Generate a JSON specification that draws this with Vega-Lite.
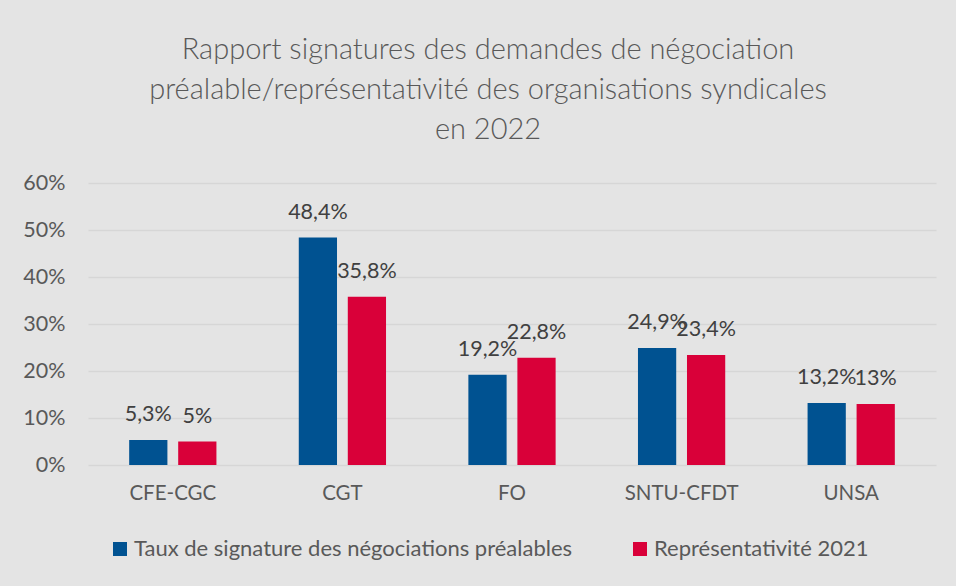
{
  "$schema": "https://vega.github.io/schema/vega-lite/v6.json",
  "width": 848,
  "height": 282,
  "autosize": {"type": "none"},
  "padding": {"left": 88, "top": 183, "right": 20, "bottom": 121},
  "background": "#e4e4e4",
  "title": {
    "text": ["Rapport signatures des demandes de négociation", "préalable/représentativité des organisations syndicales", "en 2022"],
    "font": "Lato",
    "fontSize": 29,
    "fontWeight": 300,
    "color": "#595959",
    "lineHeight": 40,
    "anchor": "middle",
    "dx": -24,
    "offset": 27
  },
  "config": {
    "locale": {"number": {"decimal": ",", "thousands": " ", "grouping": [3], "currency": ["", " €"]}},
    "view": {"stroke": null},
    "font": "Lato"
  },
  "data": {
    "values": [
      {"org": "CFE-CGC", "serie": "Taux de signature des négociations préalables", "value": 0.053},
      {"org": "CFE-CGC", "serie": "Représentativité 2021", "value": 0.05},
      {"org": "CGT", "serie": "Taux de signature des négociations préalables", "value": 0.484},
      {"org": "CGT", "serie": "Représentativité 2021", "value": 0.358},
      {"org": "FO", "serie": "Taux de signature des négociations préalables", "value": 0.192},
      {"org": "FO", "serie": "Représentativité 2021", "value": 0.228},
      {"org": "SNTU-CFDT", "serie": "Taux de signature des négociations préalables", "value": 0.249},
      {"org": "SNTU-CFDT", "serie": "Représentativité 2021", "value": 0.234},
      {"org": "UNSA", "serie": "Taux de signature des négociations préalables", "value": 0.132},
      {"org": "UNSA", "serie": "Représentativité 2021", "value": 0.13}
    ]
  },
  "encoding": {
    "x": {
      "field": "org",
      "type": "nominal",
      "sort": null,
      "scale": {"paddingInner": 0, "paddingOuter": 0},
      "axis": {
        "title": null,
        "labelAngle": 0,
        "domain": false,
        "ticks": false,
        "labelPadding": 18,
        "labelFontSize": 20.5,
        "labelColor": "#595959",
        "labelFont": "Lato"
      }
    },
    "xOffset": {
      "field": "serie",
      "type": "nominal",
      "sort": ["Taux de signature des négociations préalables", "Représentativité 2021"],
      "scale": {"paddingInner": 0.22, "paddingOuter": 0.84}
    },
    "y": {
      "field": "value",
      "type": "quantitative",
      "scale": {"domain": [0, 0.6], "nice": false},
      "axis": {
        "title": null,
        "values": [0, 0.1, 0.2, 0.3, 0.4, 0.5, 0.6],
        "format": ".0%",
        "domain": false,
        "ticks": false,
        "labelPadding": 23,
        "labelFontSize": 21.5,
        "labelColor": "#595959",
        "labelFont": "Lato",
        "gridColor": "#d6d6d6",
        "gridWidth": 1.5
      }
    }
  },
  "layer": [
    {
      "mark": {"type": "bar"},
      "encoding": {
        "color": {
          "field": "serie",
          "type": "nominal",
          "scale": {
            "domain": ["Taux de signature des négociations préalables", "Représentativité 2021"],
            "range": ["#005291", "#d90039"]
          },
          "legend": {
            "title": null,
            "orient": "none",
            "direction": "horizontal",
            "legendX": 21,
            "legendY": 355,
            "symbolType": "square",
            "symbolSize": 196,
            "symbolStrokeWidth": 0,
            "symbolOpacity": 1,
            "labelFontSize": 22,
            "labelColor": "#595959",
            "labelFont": "Lato",
            "labelLimit": 700,
            "labelOffset": 3,
            "columnPadding": 56
          }
        }
      }
    },
    {
      "mark": {"type": "text", "baseline": "middle", "dy": -25, "fontSize": 21.5, "color": "#404040", "font": "Lato"},
      "encoding": {
        "text": {"field": "value", "type": "quantitative", "format": ".1~%"}
      }
    }
  ]
}
